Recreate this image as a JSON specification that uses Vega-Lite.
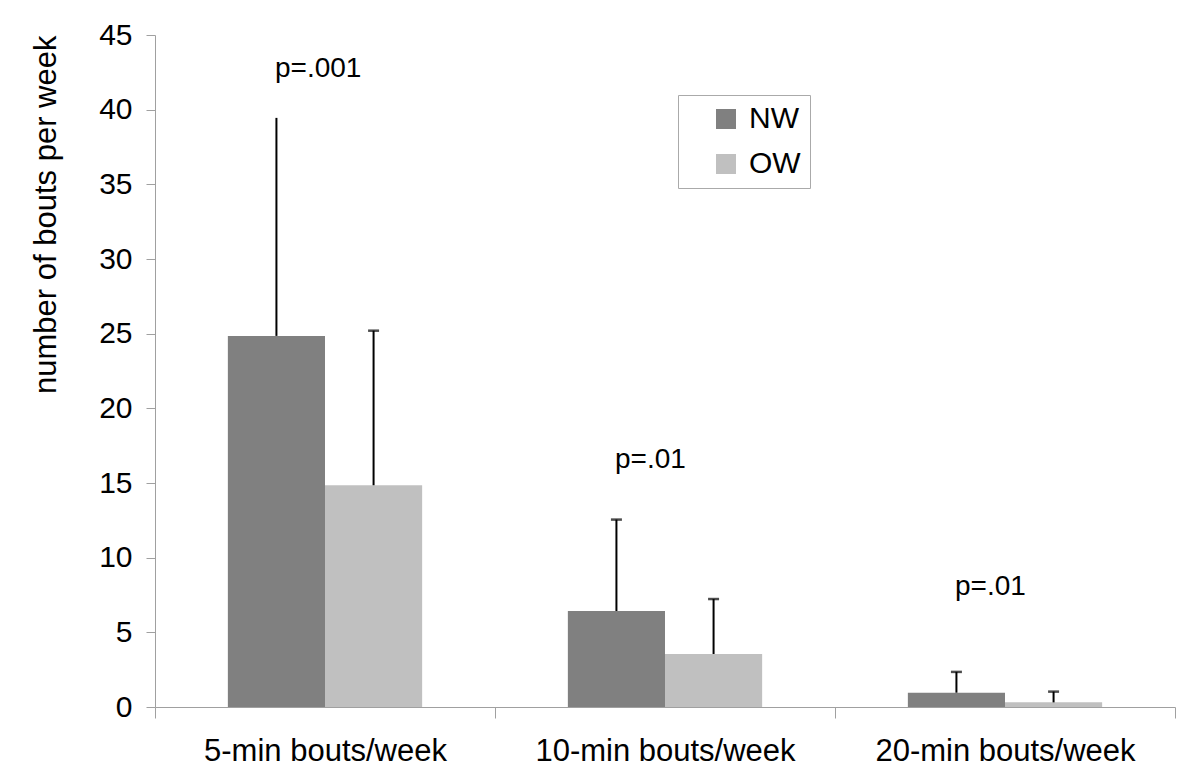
{
  "$schema": "https://vega.github.io/schema/vega-lite/v6.json",
  "width": 1020,
  "height": 672,
  "autosize": "none",
  "padding": {"left": 155, "top": 35, "right": 25, "bottom": 77},
  "background": "white",
  "config": {
    "font": "Liberation Sans",
    "view": {"stroke": null}
  },
  "datasets": {
    "bars": [
      {"cat": "5-min bouts/week", "group": "NW", "value": 24.85, "upper": 39.45},
      {"cat": "5-min bouts/week", "group": "OW", "value": 14.85, "upper": 25.2},
      {"cat": "10-min bouts/week", "group": "NW", "value": 6.43, "upper": 12.55},
      {"cat": "10-min bouts/week", "group": "OW", "value": 3.55, "upper": 7.23},
      {"cat": "20-min bouts/week", "group": "NW", "value": 0.96, "upper": 2.35},
      {"cat": "20-min bouts/week", "group": "OW", "value": 0.31, "upper": 1.03}
    ],
    "pvals": [
      {"cat": "5-min bouts/week", "label": "p=.001", "ypos": 42.2},
      {"cat": "10-min bouts/week", "label": "p=.01", "ypos": 16.0},
      {"cat": "20-min bouts/week", "label": "p=.01", "ypos": 7.5}
    ]
  },
  "layer": [
    {
      "data": {"name": "bars"},
      "mark": {"type": "bar"},
      "encoding": {
        "x": {
          "field": "cat", "type": "nominal", "sort": null,
          "scale": {"paddingInner": 0, "paddingOuter": 0},
          "axis": {
            "title": null, "labelAngle": 0, "tickBand": "extent",
            "domainColor": "#a0a0a0", "tickColor": "#a0a0a0", "tickSize": 11,
            "labelFontSize": 31, "labelColor": "black", "labelPadding": 18,
            "labelFont": "Liberation Sans", "labelLimit": 400
          }
        },
        "xOffset": {
          "field": "group", "type": "nominal",
          "scale": {"paddingInner": 0, "paddingOuter": 0.75}
        },
        "y": {
          "field": "value", "type": "quantitative",
          "scale": {"domain": [0, 45], "nice": false},
          "axis": {
            "title": "number of bouts per week",
            "values": [0, 5, 10, 15, 20, 25, 30, 35, 40, 45],
            "grid": false,
            "domainColor": "#a0a0a0", "tickColor": "#a0a0a0", "tickSize": 9,
            "labelFontSize": 30, "labelColor": "black", "labelPadding": 14,
            "labelFont": "Liberation Sans",
            "titleFontSize": 31, "titleFontWeight": "normal", "titleColor": "black",
            "titleFont": "Liberation Sans", "titleAnchor": "end", "titlePadding": 36
          }
        },
        "color": {
          "field": "group", "type": "nominal",
          "scale": {"domain": ["NW", "OW"], "range": ["#808080", "#c0c0c0"]},
          "legend": {
            "title": null, "orient": "none", "legendX": 523, "legendY": 60,
            "symbolType": "square", "symbolSize": 400, "symbolStrokeWidth": 0,
            "labelFontSize": 30, "labelColor": "black", "labelFont": "Liberation Sans",
            "labelOffset": 8, "padding": 9, "rowPadding": 15, "symbolOffset": 24,
            "strokeColor": "#aaaaaa", "fillColor": "white",
            "labelExpr": "datum.label + '\u00a0\u00a0\u00a0'"
          }
        }
      }
    },
    {
      "data": {"name": "bars"},
      "mark": {"type": "rule", "color": "black", "strokeWidth": 2},
      "encoding": {
        "x": {"field": "cat", "type": "nominal", "sort": null},
        "xOffset": {"field": "group", "type": "nominal"},
        "y": {"field": "value", "type": "quantitative"},
        "y2": {"field": "upper"}
      }
    },
    {
      "data": {"name": "bars"},
      "transform": [{"filter": "datum.cat != '5-min bouts/week' || datum.group != 'NW'"}],
      "mark": {"type": "tick", "color": "black", "thickness": 2.5, "size": 11},
      "encoding": {
        "x": {"field": "cat", "type": "nominal", "sort": null},
        "xOffset": {"field": "group", "type": "nominal"},
        "y": {"field": "upper", "type": "quantitative"}
      }
    },
    {
      "data": {"name": "pvals"},
      "mark": {"type": "text", "fontSize": 28, "align": "left", "baseline": "alphabetic", "dx": -50, "color": "black", "font": "Liberation Sans"},
      "encoding": {
        "x": {"field": "cat", "type": "nominal", "sort": null},
        "y": {"field": "ypos", "type": "quantitative"},
        "text": {"field": "label"}
      }
    }
  ]
}
